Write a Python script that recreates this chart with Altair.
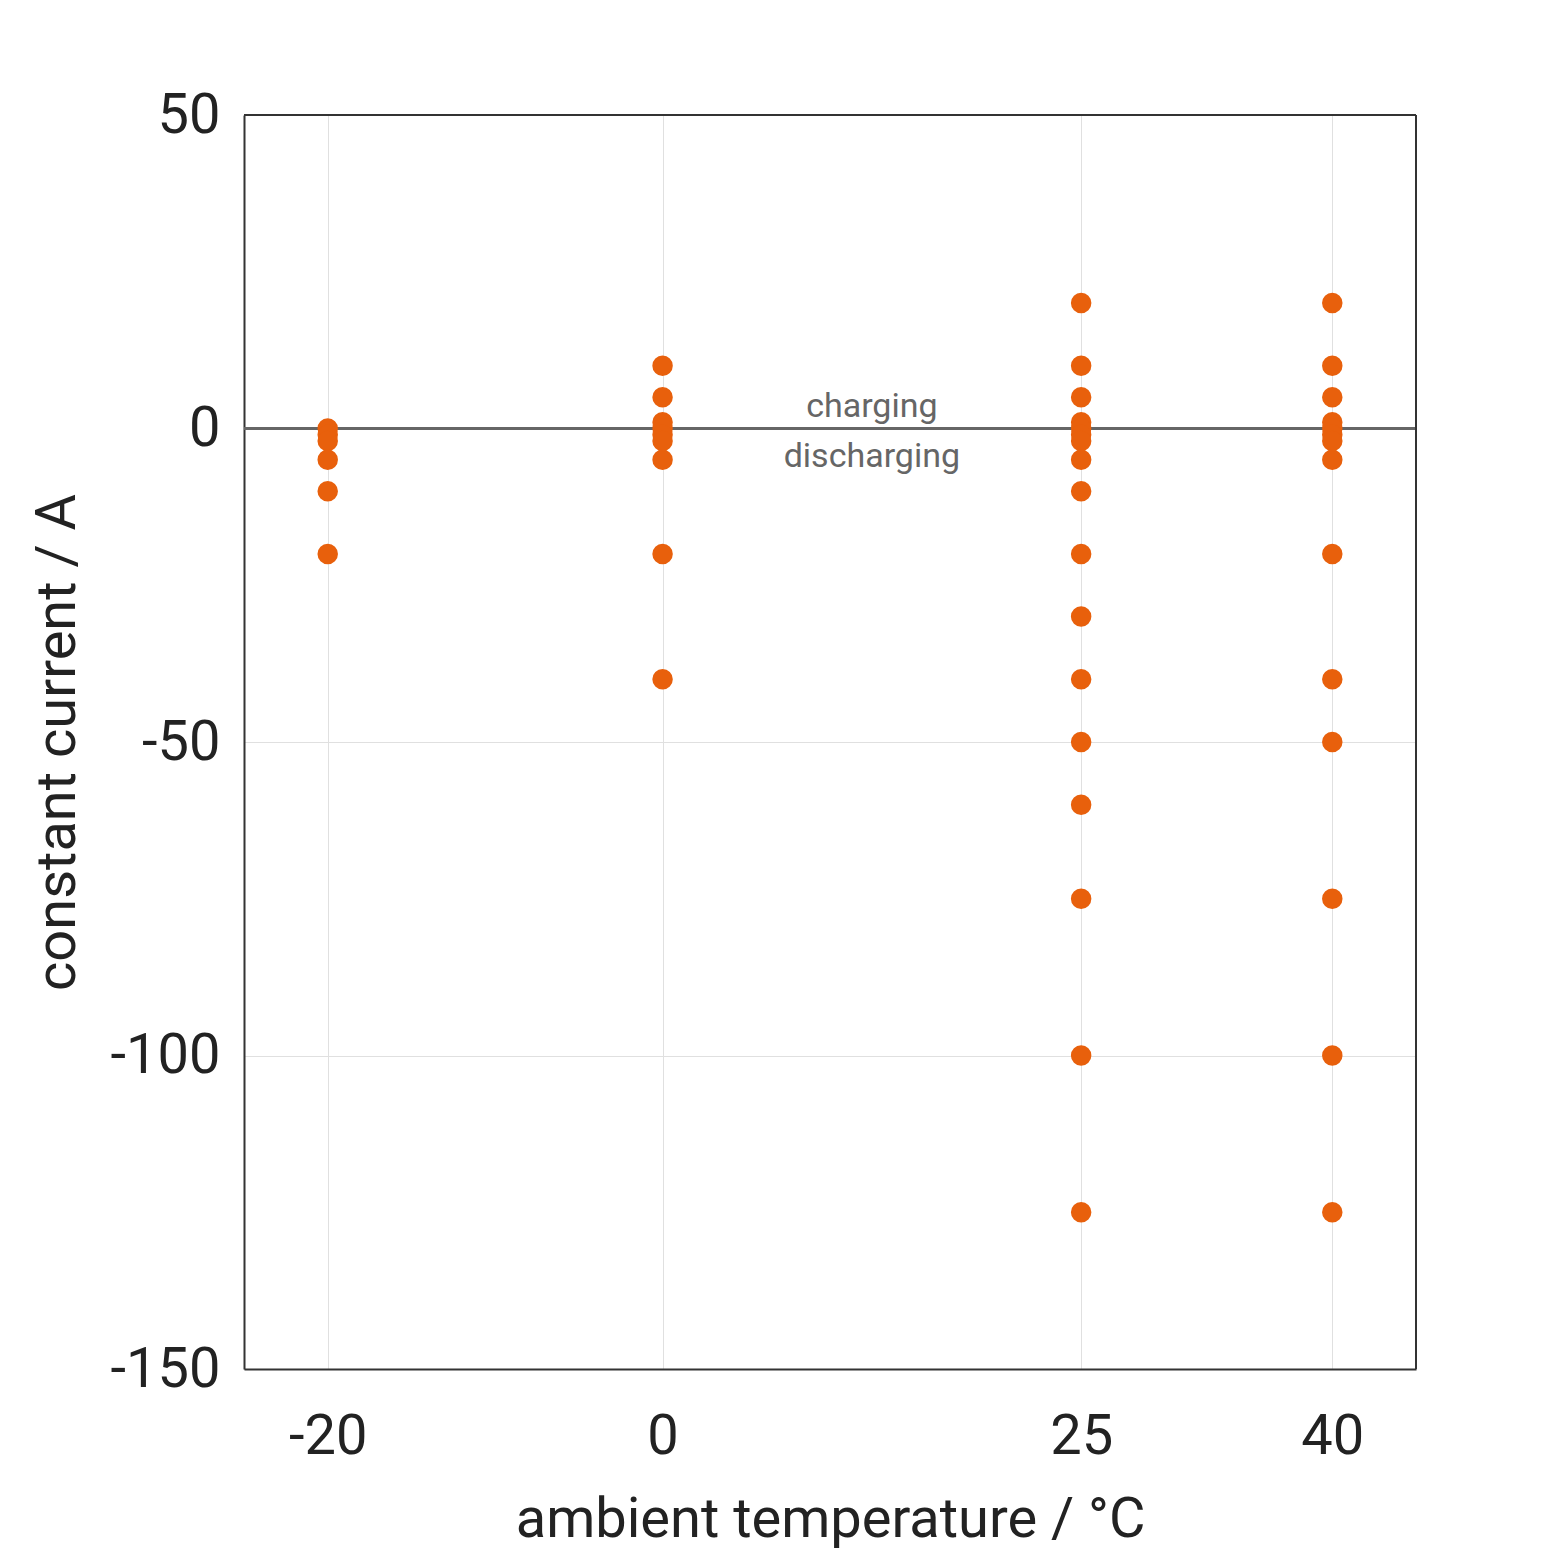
import altair as alt
import pandas as pd

t_m20 = [0, -1, -2, -5, -10, -20]
t_0 = [10, 5, 1, 0, -1, -2, -5, -20, -40]
t_25 = [20, 10, 5, 1, 0, -1, -2, -5, -10, -20, -30, -40, -50, -60, -75, -100, -125]
t_40 = [20, 10, 5, 1, 0, -1, -2, -5, -20, -40, -50, -75, -100, -125]

rows = []
for t, vals in [(-20, t_m20), (0, t_0), (25, t_25), (40, t_40)]:
    for v in vals:
        rows.append({"T": t, "I": v})
df = pd.DataFrame(rows)

labels = pd.DataFrame({"T": [12.5, 12.5], "I": [3.5, -4.5], "txt": ["charging", "discharging"]})

F = "Roboto"
xs = alt.Scale(domain=[-25, 45], nice=False, zero=False)
ys = alt.Scale(domain=[-150, 50], nice=False)
lab = "replace(format(datum.value, 'd'), '−', '-')"

pts = alt.Chart(df).mark_circle(size=420, opacity=1, color="#E8600C").encode(
    x=alt.X("T:Q", scale=xs, title="ambient temperature / °C",
            axis=alt.Axis(values=[-20, 0, 25, 40], labelFontSize=56, titleFontSize=56,
                          labelFont=F, titleFont=F, labelColor="#222", titleColor="#222",
                          titleFontWeight="normal", labelExpr=lab,
                          tickSize=0, labelPadding=40, titlePadding=28, gridColor="#e0e0e0",
                          domainColor="#333", domainWidth=2)),
    y=alt.Y("I:Q", scale=ys, title="constant current / A",
            axis=alt.Axis(values=[50, 0, -50, -100, -150], labelFontSize=56, titleFontSize=56,
                          labelFont=F, titleFont=F, labelColor="#222", titleColor="#222",
                          titleFontWeight="normal", labelExpr=lab,
                          tickSize=0, labelPadding=24, titlePadding=24, gridColor="#e0e0e0",
                          domainColor="#333", domainWidth=2)),
)

zero = alt.Chart(pd.DataFrame({"I": [0]})).mark_rule(color="#666", strokeWidth=3).encode(y=alt.Y("I:Q", scale=ys))

frame_top = alt.Chart(pd.DataFrame({"a": [0]})).mark_rule(color="#333", strokeWidth=2).encode(
    x=alt.value(0), x2=alt.value(1172), y=alt.value(0))
frame_right = alt.Chart(pd.DataFrame({"a": [0]})).mark_rule(color="#333", strokeWidth=2).encode(
    x=alt.value(1172), y=alt.value(0), y2=alt.value(1254))

txt = alt.Chart(labels).mark_text(font=F, fontSize=34, color="#666").encode(
    x=alt.X("T:Q", scale=xs), y=alt.Y("I:Q", scale=ys), text="txt:N")

chart = alt.layer(zero, frame_top, frame_right, pts, txt).properties(
    width=1172, height=1254, autosize="none",
    padding={"left": 236, "top": 107, "right": 139, "bottom": 186},
).configure_view(stroke="#333", strokeWidth=2).configure(background="white")

chart.save("out.html", embed_options={"renderer": "svg", "actions": False})
